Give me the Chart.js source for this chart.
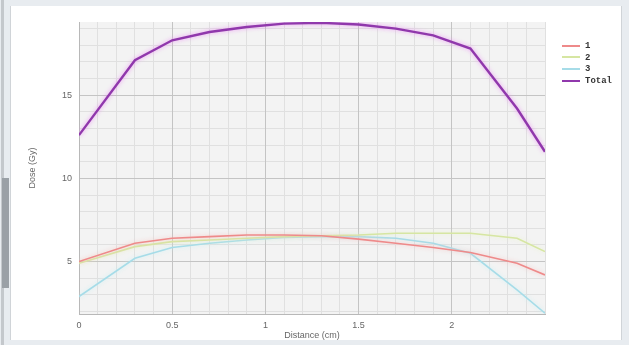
<!DOCTYPE html>
<html>
<head>
<meta charset="utf-8">
<script src="https://cdn.jsdelivr.net/npm/chart.js@4/dist/chart.umd.min.js"></script>
<style>
  html, body { margin: 0; padding: 0; width: 629px; height: 345px; overflow: hidden; background: #e8ecf0; }
  #panel { position: absolute; left: 10px; top: 6px; width: 610px; height: 334px; background: #fff; border-left: 1px solid #d0d4d8; border-right: 1px solid #d0d4d8; }
  #lbar { position: absolute; left: 1px; top: 0; width: 3px; height: 345px; background: #c4c8cc; }
  #sbar { position: absolute; left: 2px; top: 178px; width: 7px; height: 110px; background: #9aa0a6; }
  #wrap { position: absolute; left: 0; top: 0; width: 629px; height: 345px; }
  #legend { position: absolute; left: 562px; top: 41px; font: bold 9px "Liberation Mono", monospace; color: #333; }
  #legend div { height: 11.7px; line-height: 11.7px; white-space: nowrap; }
  #legend span.sw { display: inline-block; width: 18px; height: 0; border-top: 2px solid; vertical-align: middle; margin-right: 5px; }
</style>
</head>
<body>
<div id="lbar"></div>
<div id="panel"></div>
<div id="sbar"></div>
<div id="wrap"><canvas id="c" width="629" height="345"></canvas></div>
<div id="legend"></div>
<script>
// ---- data ----
const distances = [0, 0.3, 0.5, 0.7, 0.9, 1.1, 1.3, 1.5, 1.7, 1.9, 2.1, 2.35, 2.5];
const series1 = [5.0, 6.1, 6.4, 6.5, 6.6, 6.6, 6.55, 6.35, 6.1, 5.85, 5.55, 4.9, 4.2];
const series2 = [4.9, 5.9, 6.2, 6.3, 6.4, 6.5, 6.55, 6.6, 6.7, 6.7, 6.7, 6.4, 5.6];
const series3 = [2.9, 5.2, 5.85, 6.1, 6.3, 6.45, 6.5, 6.5, 6.4, 6.1, 5.5, 3.3, 1.9];
const seriesTotal = [12.6, 17.1, 18.3, 18.8, 19.1, 19.3, 19.35, 19.25, 19.0, 18.6, 17.8, 14.2, 11.6];
const seriesNames = ["1", "2", "3", "Total"];
const xTicks = [0, 0.5, 1, 1.5, 2];
const yTicks = [5, 10, 15];
const xMin = 0, xMax = 2.5, yMin = 1.85, yMax = 19.4;
const xMinorStep = 0.1, yMinorStep = 1;

const colors = ["#ee8a8a", "#d6e6a2", "#a6dce8", "#9038ac"];
const glows = ["rgba(250,190,190,0.8)", "rgba(235,245,200,0.8)", "rgba(200,240,245,0.8)", "rgba(235,140,245,0.85)"];
const widths = [1.6, 1.6, 1.6, 2.4];
const allSeries = [series1, series2, series3, seriesTotal];

function pts(arr) { return distances.map((d, i) => ({ x: d, y: arr[i] })); }

const datasets = allSeries.map((s, i) => ({
  label: seriesNames[i],
  data: pts(s),
  borderColor: colors[i],
  backgroundColor: colors[i],
  borderWidth: widths[i],
  pointRadius: 0,
  tension: 0,
  fill: false,
  glow: glows[i]
}));

const minorTicks = (min, max, step) => { const t = []; for (let k = Math.ceil(min / step - 1e-9); k * step <= max + 1e-9; k++) t.push(+(k * step).toFixed(6)); return t; };

const bgPlugin = {
  id: 'bg',
  beforeDraw(chart) {
    const { ctx, chartArea: a } = chart;
    ctx.save();
    ctx.fillStyle = '#f3f3f3';
    ctx.fillRect(a.left, a.top, a.right - a.left, a.bottom - a.top);
    ctx.restore();
  },
  beforeDatasetDraw(chart, args) {
    const ds = chart.data.datasets[args.index];
    chart.ctx.save();
    chart.ctx.shadowColor = ds.glow;
    chart.ctx.shadowBlur = 4;
  },
  afterDatasetDraw(chart) { chart.ctx.restore(); }
};

const tickFont = { family: "Liberation Sans, sans-serif", size: 9 };
const plainLabel = v => String(v);

new Chart(document.getElementById('c'), {
  type: 'line',
  data: { datasets },
  options: {
    responsive: false,
    animation: false,
    layout: { padding: { left: 0, top: 22, right: 84, bottom: 0 } },
    plugins: { legend: { display: false }, tooltip: { enabled: false } },
    scales: {
      xMinor: {
        type: 'linear', position: 'bottom', min: xMin, max: xMax,
        afterBuildTicks: s => { s.ticks = minorTicks(xMin, xMax, xMinorStep).map(v => ({ value: v })); },
        afterFit: s => { s.height = 0; },
        ticks: { display: false },
        grid: { color: '#e0e0e0', lineWidth: 1, drawTicks: false, z: -2 },
        border: { display: false }
      },
      yMinor: {
        type: 'linear', position: 'left', min: yMin, max: yMax,
        afterBuildTicks: s => { s.ticks = minorTicks(yMin, yMax, yMinorStep).map(v => ({ value: v })); },
        afterFit: s => { s.width = 0; },
        ticks: { display: false },
        grid: { color: '#e0e0e0', lineWidth: 1, drawTicks: false, z: -2 },
        border: { display: false }
      },
      x: {
        type: 'linear', position: 'bottom', min: xMin, max: xMax,
        afterBuildTicks: s => { s.ticks = xTicks.map(v => ({ value: v })); },
        afterFit: s => { s.height = 31; },
        ticks: { font: tickFont, color: '#666', padding: 6, maxRotation: 0, autoSkip: false, callback: plainLabel },
        grid: { color: '#c4c4c4', lineWidth: 1, drawTicks: false },
        border: { display: true, color: '#b8b8b8' },
        title: { display: true, text: 'Distance (cm)', font: tickFont, color: '#666', padding: { top: 0, bottom: 4 } }
      },
      y: {
        type: 'linear', position: 'left', min: yMin, max: yMax,
        afterBuildTicks: s => { s.ticks = yTicks.map(v => ({ value: v })); },
        afterFit: s => { s.width = 79; },
        ticks: { font: tickFont, color: '#666', padding: 7, callback: plainLabel },
        grid: { color: '#c4c4c4', lineWidth: 1, drawTicks: false },
        border: { display: true, color: '#b8b8b8' },
        title: { display: true, text: 'Dose (Gy)', font: tickFont, color: '#666', padding: { top: 27, bottom: 0 } }
      }
    }
  },
  plugins: [bgPlugin]
});

// HTML legend from the same names/colours
const lg = document.getElementById('legend');
seriesNames.forEach((n, i) => {
  const d = document.createElement('div');
  const sw = document.createElement('span');
  sw.className = 'sw';
  sw.style.borderTopColor = colors[i];
  d.appendChild(sw);
  d.appendChild(document.createTextNode(n));
  lg.appendChild(d);
});
</script>
</body>
</html>
